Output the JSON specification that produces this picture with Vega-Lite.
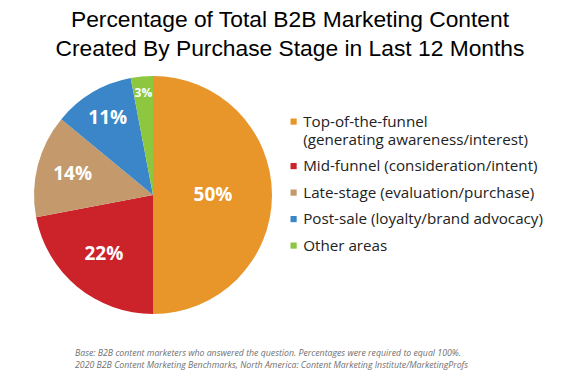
{
  "$schema": "https://vega.github.io/schema/vega-lite/v6.json",
  "autosize": {"type": "pad"},
  "padding": {"left": 0, "top": 9, "right": 0, "bottom": 0},
  "background": "white",
  "title": {
    "text": ["Percentage of Total B2B Marketing Content", "Created By Purchase Stage in Last 12 Months"],
    "font": "Liberation Sans", "fontSize": 22.8, "fontWeight": "normal", "color": "#000000",
    "anchor": "middle", "frame": "group", "dx": 137, "lineHeight": 29, "offset": 15
  },
  "data": {"values": [
    {"category": "Top-of-the-funnel (generating awareness/interest)", "value": 50, "label": "50%"},
    {"category": "Mid-funnel (consideration/intent)", "value": 22, "label": "22%"},
    {"category": "Late-stage (evaluation/purchase)", "value": 14, "label": "14%"},
    {"category": "Post-sale (loyalty/brand advocacy)", "value": 11, "label": "11%"},
    {"category": "Other areas", "value": 3, "label": "3%"}
  ]},
  "spacing": 0,
  "vconcat": [{
    "width": 306,
    "height": 230,
    "title": {
      "text": ["Base: B2B content marketers who answered the question. Percentages were required to equal 100%.", "2020 B2B Content Marketing Benchmarks, North America: Content Marketing Institute/MarketingProfs"],
      "orient": "bottom", "anchor": "start", "frame": "group", "dx": 75, "offset": 35,
      "font": "Open Sans", "fontSize": 8.75, "fontStyle": "italic", "fontWeight": "normal", "color": "#707070", "lineHeight": 11.5
    },
    "layer": [
      {
        "mark": {"type": "arc", "outerRadius": 119},
        "encoding": {
          "theta": {"field": "value", "type": "quantitative", "stack": true},
          "order": {"field": "value", "type": "quantitative", "sort": "descending"},
          "color": {
            "field": "category", "type": "nominal",
            "scale": {
              "domain": ["Top-of-the-funnel (generating awareness/interest)", "Mid-funnel (consideration/intent)", "Late-stage (evaluation/purchase)", "Post-sale (loyalty/brand advocacy)", "Other areas"],
              "range": ["#E8952A", "#CC2229", "#C49A6C", "#3A86C8", "#8DC63F"]
            },
            "legend": {
              "orient": "none", "legendX": 286, "legendY": 34, "title": null,
              "symbolType": "square", "symbolSize": 38, "symbolStrokeWidth": 0,
              "labelFont": "Open Sans", "labelFontSize": 15.2, "labelColor": "#222222",
              "rowPadding": 10.5, "labelOffset": 2, "labelLimit": 300,
              "labelExpr": "datum.label == 'Top-of-the-funnel (generating awareness/interest)' ? ['Top-of-the-funnel', '(generating awareness/interest)'] : datum.label"
            }
          }
        }
      },
      {
        "mark": {"type": "text", "font": "Open Sans", "fontWeight": "bold", "color": "white"},
        "encoding": {
          "theta": {"field": "value", "type": "quantitative", "stack": true},
          "order": {"field": "value", "type": "quantitative", "sort": "descending"},
          "radius": {
            "field": "value", "type": "quantitative",
            "scale": {"type": "linear", "domain": [3, 11, 14, 22, 50], "range": [102, 89, 83, 77, 60], "zero": false}
          },
          "text": {"field": "label"},
          "size": {"condition": {"test": "datum.value < 5", "value": 12}, "value": 19}
        }
      }
    ]
  }],
  "config": {"view": {"stroke": null}, "style": {"guide-label": {"lineHeight": 18}}}
}
